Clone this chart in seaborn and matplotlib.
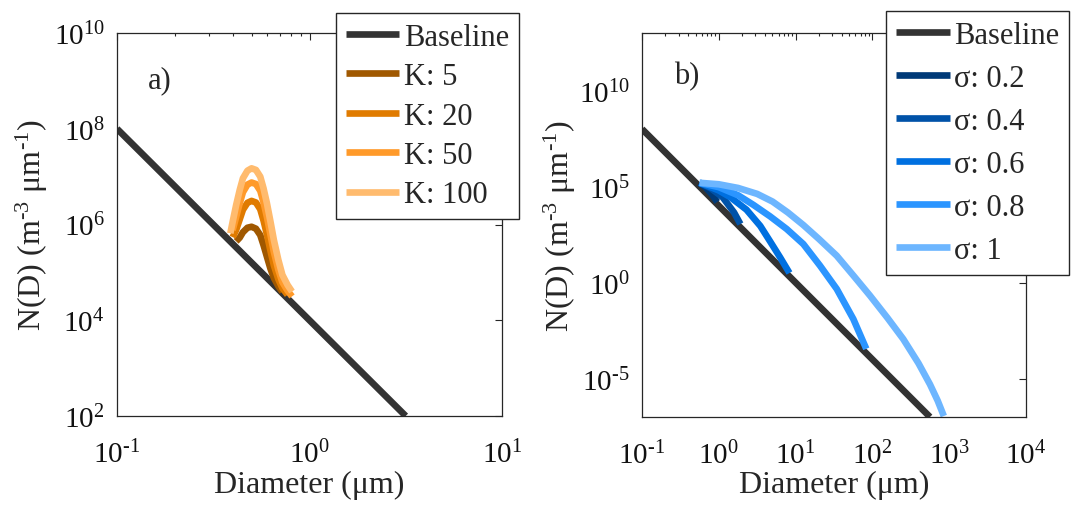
import matplotlib
matplotlib.use("Agg")
import matplotlib.pyplot as plt
import seaborn as sns
import numpy as np
from matplotlib.ticker import (FixedLocator, LogLocator, FuncFormatter,
                               NullLocator, NullFormatter)

# ---------------- data ----------------
# Panel a) baseline and lognormal-mode curves for several K
base_a_D = [0.1, 3.16]
base_a_N = [1.0e8, 1.0e2]

k100_D = [0.388, 0.399, 0.416, 0.434, 0.451, 0.476, 0.500, 0.527, 0.555,
          0.577, 0.601, 0.627, 0.653, 0.689, 0.723, 0.769, 0.811]
k100_N = [6.55e5, 1.15e6, 2.56e6, 5.26e6, 9.23e6, 1.33e7, 1.49e7, 1.38e7, 9.98e6,
          5.70e6, 2.77e6, 1.15e6, 4.75e5, 1.82e5, 8.85e4, 5.47e4, 3.97e4]
k50_D = [0.399, 0.416, 0.434, 0.451, 0.476, 0.500, 0.527, 0.555,
         0.577, 0.601, 0.627, 0.653, 0.689, 0.723, 0.769, 0.811]
k50_N = [7.66e5, 1.44e6, 2.78e6, 4.72e6, 6.81e6, 7.53e6, 7.00e6, 5.05e6,
         2.90e6, 1.43e6, 6.10e5, 2.67e5, 1.13e5, 6.22e4, 4.15e4, 3.14e4]
k20_D = [0.399, 0.416, 0.434, 0.451, 0.476, 0.500, 0.527, 0.555,
         0.577, 0.601, 0.627, 0.653, 0.689, 0.723, 0.769]
k20_N = [5.43e5, 7.74e5, 1.28e6, 2.03e6, 2.84e6, 3.11e6, 2.88e6, 2.08e6,
         1.21e6, 6.17e5, 2.82e5, 1.40e5, 7.18e4, 4.69e4, 3.39e4]
k5_D = [0.416, 0.434, 0.451, 0.476, 0.500, 0.527, 0.555,
        0.577, 0.601, 0.627, 0.653, 0.689, 0.723]
k5_N = [4.45e5, 5.32e5, 6.90e5, 8.55e5, 8.97e5, 8.17e5, 6.00e5,
        3.71e5, 2.12e5, 1.19e5, 7.62e4, 5.14e4, 3.92e4]

k_labels = ["K: 5", "K: 20", "K: 50", "K: 100"]
k_colors = ["#a05800", "#e07b00", "#ff9a2a", "#ffbb6e"]

# Panel b) baseline and curves for several sigma
base_b_D = [0.1, 562.0]
base_b_N = [1.0e8, 1.0e-7]

s02_D = [0.562, 0.676, 0.813, 0.955]
s02_N = [1.58e5, 8.91e4, 3.98e4, 1.58e4]
s04_D = [0.562, 0.794, 1.12, 1.58, 1.91]
s04_N = [1.58e5, 7.94e4, 2.82e4, 4.47e3, 1.12e3]
s06_D = [0.562, 1.0, 1.41, 2.29, 3.47, 4.65, 6.31, 8.32]
s06_N = [1.58e5, 6.31e4, 2.82e4, 6.31e3, 891.0, 141.0, 20.0, 3.16]
s08_D = [0.562, 1.0, 1.78, 2.82, 4.65, 7.66, 12.6, 20.8, 34.3, 56.5, 83.2]
s08_N = [1.58e5, 9.33e4, 3.55e4, 1.12e4, 2.82e3, 617.0, 102.0, 7.59, 0.468,
         1.26e-2, 3.55e-4]
s10_D = [0.562, 1.0, 1.78, 3.16, 5.01, 7.94, 12.6, 20.0, 34.3, 56.2, 93.1,
         158.0, 252.0, 398.0, 562.0, 708.0, 851.0]
s10_N = [1.58e5, 1.32e5, 8.51e4, 4.17e4, 1.66e4, 4.47e3, 1.0e3, 191.0, 25.1,
         2.40, 0.209, 1.41e-2, 1.15e-3, 6.31e-5, 5.01e-6, 7.08e-7, 1.12e-7]

s_labels = ["σ: 0.2", "σ: 0.4", "σ: 0.6", "σ: 0.8", "σ: 1"]
s_colors = ["#003a78", "#0052a8", "#0070e0", "#2b95ff", "#6db6ff"]

base_color = "#333333"

# ---------------- style ----------------
sns.set_style("white")
plt.rcParams["font.family"] = ["Liberation Serif", "DejaVu Serif"]
plt.rcParams["mathtext.fontset"] = "custom"
plt.rcParams["mathtext.rm"] = "Liberation Serif"
plt.rcParams["mathtext.it"] = "Liberation Serif:italic"
plt.rcParams["mathtext.bf"] = "Liberation Serif:bold"
plt.rcParams["axes.unicode_minus"] = False

LW = 4.8
fig = plt.figure(figsize=(10.73, 5.06), dpi=100)
axA = fig.add_axes([117 / 1073, (506 - 417) / 506, 385 / 1073, 383 / 506])
axB = fig.add_axes([642 / 1073, (506 - 418) / 506, 384 / 1073, 384 / 506])

for ax in (axA, axB):
    ax.set_xscale("log")
    ax.set_yscale("log")


def line(ax, D, N, color, label):
    sns.lineplot(x=D, y=N, ax=ax, color=color, linewidth=LW, label=label,
                 estimator=None, sort=False, legend=False,
                 solid_capstyle="butt", solid_joinstyle="round")


def pow10(v, pos):
    e = int(round(np.log10(v)))
    if e < 0:
        return r"$\mathregular{10^{\text{-}%d}}$" % (-e)
    return r"$\mathregular{10^{%d}}$" % e


# panel a
line(axA, base_a_D, base_a_N, base_color, "Baseline")
for D, N, c, lab in zip([k5_D, k20_D, k50_D, k100_D], [k5_N, k20_N, k50_N, k100_N],
                        k_colors, k_labels):
    line(axA, D, N, c, lab)

# panel b
line(axB, base_b_D, base_b_N, base_color, "Baseline")
for D, N, c, lab in zip([s02_D, s04_D, s06_D, s08_D, s10_D],
                        [s02_N, s04_N, s06_N, s08_N, s10_N], s_colors, s_labels):
    line(axB, D, N, c, lab)

axA.set_xlim(0.1, 10)
axA.set_ylim(1e2, 1e10)
axB.set_xlim(0.1, 1e4)
axB.set_ylim(1e-7, 1e13)

axA.yaxis.set_major_locator(FixedLocator([1e2, 1e4, 1e6, 1e8, 1e10]))
axB.yaxis.set_major_locator(FixedLocator([1e-5, 1e0, 1e5, 1e10]))

for ax in (axA, axB):
    ax.xaxis.set_major_locator(LogLocator(base=10, numticks=20))
    ax.xaxis.set_minor_locator(LogLocator(base=10, subs=np.arange(2, 10) * 1.0, numticks=60))
    ax.xaxis.set_minor_formatter(NullFormatter())
    ax.xaxis.set_major_formatter(FuncFormatter(pow10))
    ax.yaxis.set_major_formatter(FuncFormatter(pow10))
    ax.yaxis.set_minor_locator(NullLocator())
    ax.tick_params(which="both", direction="in", top=True, right=True,
                   color="#262626", width=0.8, labelsize=21, labelcolor="#111111")
    ax.tick_params(which="major", length=5)
    ax.tick_params(which="minor", length=2.5)
    ax.tick_params(axis="x", which="major", pad=17)
    ax.tick_params(axis="y", which="major", pad=9)
    for sp in ax.spines.values():
        sp.set_linewidth(0.9)
        sp.set_color("#262626")
    ax.set_xlabel("Diameter (μm)", fontsize=23)
    ax.set_ylabel("N(D) (m$^{\\text{-}3}$ μm$^{\\text{-}1}$)", fontsize=23)

axA.xaxis.set_label_coords(0.5, -0.141)
axB.xaxis.set_label_coords(0.5, -0.138)
axA.yaxis.set_label_coords(-0.175, 0.5)
axB.yaxis.set_label_coords(-0.166, 0.5)

axA.text(0.08, 0.877, "a)", transform=axA.transAxes, fontsize=22,
         ha="left", va="center")
axB.text(0.083, 0.888, "b)", transform=axB.transAxes, fontsize=22,
         ha="left", va="center")

legA = axA.legend(loc="upper left", bbox_to_anchor=(336 / 1073, 1 - 14 / 506),
                  bbox_transform=fig.transFigure, borderaxespad=0, fontsize=22,
                  frameon=True, fancybox=False, edgecolor="#262626", framealpha=1,
                  handlelength=1.74, handletextpad=0.16, borderpad=0.32,
                  labelspacing=0.34)
legA.get_frame().set_linewidth(1.0)
legA.set_zorder(10)

legB = axB.legend(loc="upper left", bbox_to_anchor=(886 / 1073, 1 - 12 / 506),
                  bbox_transform=fig.transFigure, borderaxespad=0, fontsize=22,
                  frameon=True, fancybox=False, edgecolor="#262626", framealpha=1,
                  handlelength=1.78, handletextpad=0.14, borderpad=0.32,
                  labelspacing=0.46)
legB.get_frame().set_linewidth(1.0)
legB.set_zorder(10)

fig.savefig("out.png", dpi=100)
